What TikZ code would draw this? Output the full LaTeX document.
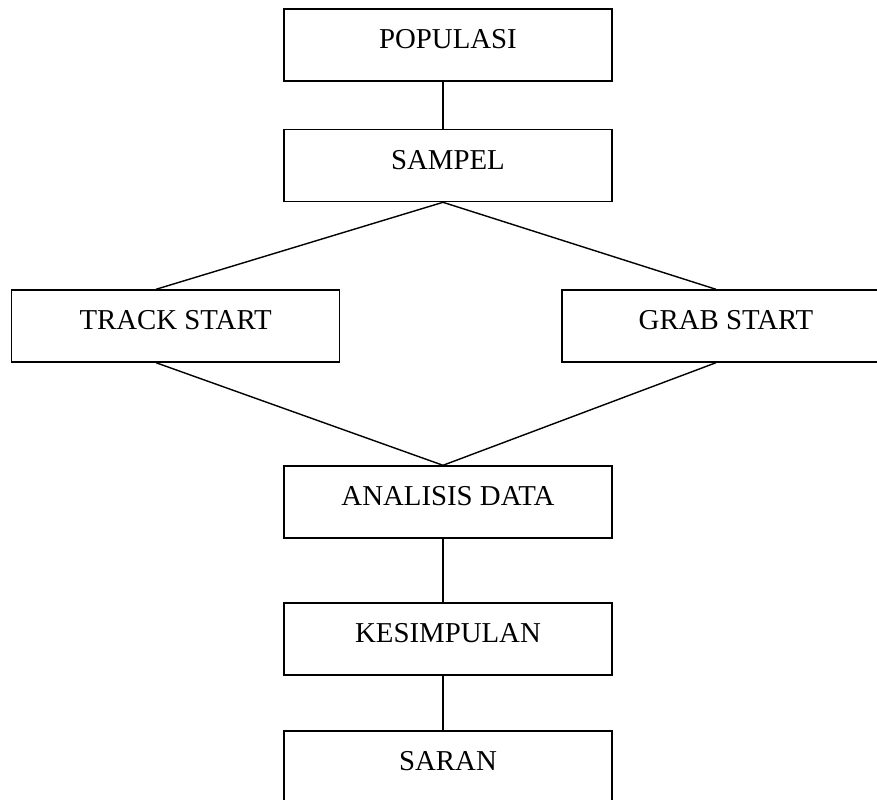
\documentclass[tikz,border=0pt]{standalone}
\usepackage{fontspec}
\setmainfont{Liberation Serif}
\usepackage{tikz}
\tikzset{box/.style={draw=black,line width=1pt,minimum width=8.2cm,minimum height=1.8cm,inner sep=0pt,
    text height=0.3cm,text depth=0.125cm,font=\fontsize{20.5}{24}\selectfont},
  conn/.style={draw=black,line width=1pt}}

\begin{document}
\begin{tikzpicture}
\useasboundingbox (0,0) rectangle (21.925,-20);
\node[box] (populasi) at (11.2,-1.125) {POPULASI};
\node[box] (sampel) at (11.2,-4.14) {SAMPEL};
\node[box] (track) at (4.39,-8.15) {TRACK START};
\node[box] (grab) at (18.15,-8.15) {GRAB START};
\node[box] (analisis) at (11.2,-12.55) {ANALISIS DATA};
\node[box] (kesimpulan) at (11.2,-15.975) {KESIMPULAN};
\node[box] (saran) at (11.2,-19.175) {SARAN};
% lines meet a little left of the box middles
\draw[conn] ([xshift=-0.125cm]populasi.south) -- ([xshift=-0.125cm]sampel.north);
\draw[conn] ([xshift=-0.49cm]track.north) -- ([xshift=-0.125cm]sampel.south) -- ([xshift=-0.25cm]grab.north);
\draw[conn] ([xshift=-0.49cm]track.south) -- ([xshift=-0.125cm]analisis.north) -- ([xshift=-0.25cm]grab.south);
\draw[conn] ([xshift=-0.125cm]analisis.south) -- ([xshift=-0.125cm]kesimpulan.north);
\draw[conn] ([xshift=-0.125cm]kesimpulan.south) -- ([xshift=-0.125cm]saran.north);
\end{tikzpicture}
\end{document}
